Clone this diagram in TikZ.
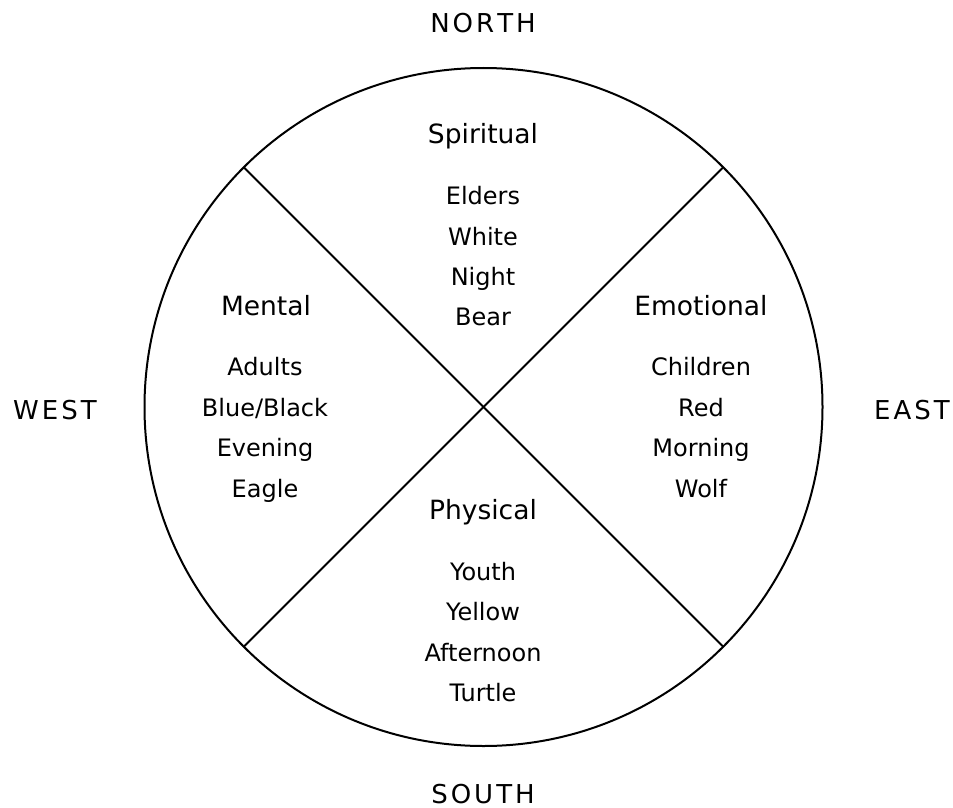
\documentclass[tikz,border=0pt]{standalone}
\usepackage{fontspec}
\setmainfont{DejaVu Sans}
\newcommand\ls{\kern3pt}
\begin{document}
\begin{tikzpicture}[x=1pt,y=-1pt,
  rim/.style={circle,draw,line width=2pt,minimum size=678pt,inner sep=0pt,outer sep=0pt},
  spoke/.style={line width=2pt},
  heading/.style={anchor=base,inner sep=0pt,font=\fontsize{26.5}{30}\selectfont},
  entry/.style={anchor=base,inner sep=0pt,font=\fontsize{24}{28}\selectfont},
  compass/.style={anchor=base,inner sep=0pt,font=\fontsize{26}{30}\selectfont}]
\useasboundingbox (0,0) rectangle (953,808);

% the wheel and its two crossing spokes
\node[rim] (wheel) at (483.5,407) {};
\draw[spoke] (wheel.135) -- (wheel.-45);
\draw[spoke] (wheel.45) -- (wheel.-135);

% directions
\node[compass] (north) at (483,32.5) {N\ls O\ls R\ls T\ls H};
\node[compass] (south) at (483,803.5) {S\ls O\ls U\ls T\ls H};
\node[compass] (west) at (55,419.5) {W\ls E\ls S\ls T};
\node[compass] (east) at (912,419.5) {E\ls A\ls S\ls T};

% north quarter
\node[heading] (spiritual) at (483,143) {Spiritual};
\node[entry] (elders) at (483,204.5) {Elders};
\node[entry] (white) at (483,245) {White};
\node[entry] (night) at (483,285.5) {Night};
\node[entry] (bear) at (483,325.5) {Bear};

% west quarter
\node[heading] (mental) at (266,315) {Mental};
\node[entry] (adults) at (265,375.5) {Adults};
\node[entry] (blueblack) at (265,416) {Blue/Black};
\node[entry] (evening) at (265,456.5) {Evening};
\node[entry] (eagle) at (265,497) {Eagle};

% east quarter
\node[heading] (emotional) at (701,315) {Emotional};
\node[entry] (children) at (701,375.5) {Children};
\node[entry] (red) at (701,416) {Red};
\node[entry] (morning) at (701,456.5) {Morning};
\node[entry] (wolf) at (701,497) {Wolf};

% south quarter
\node[heading] (physical) at (483,519.5) {Physical};
\node[entry] (youth) at (483,580.5) {Youth};
\node[entry] (yellow) at (483,620.5) {Yellow};
\node[entry] (afternoon) at (483,661) {Afternoon};
\node[entry] (turtle) at (483,701) {Turtle};
\end{tikzpicture}
\end{document}
